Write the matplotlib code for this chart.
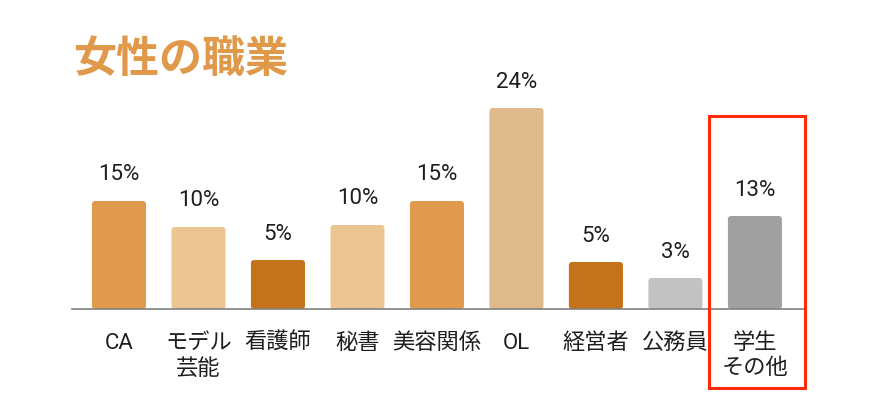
import matplotlib
matplotlib.use("Agg")
import matplotlib.pyplot as plt
from matplotlib.patches import FancyBboxPatch, Rectangle

plt.rcParams['font.family'] = ['Roboto', 'Noto Sans CJK JP', 'DejaVu Sans']

# datos
categorias = ["CA", "モデル\n芸能", "看護師", "秘書", "美容関係", "OL", "経営者", "公務員", "学生\nその他"]
porcentajes = [15, 10, 5, 10, 15, 24, 5, 3, 13]
# altura visual de cada barra (leida del grafico, no es proporcional)
altura = [108, 82, 49, 84, 108, 201, 47, 31, 93]
colores = ["#E09A4E", "#EBC592", "#C4731A", "#EBC592", "#E09A4E",
           "#DDB98C", "#C4731A", "#C2C2C2", "#A0A0A0"]

W, H = 884, 403
fig = plt.figure(figsize=(W / 100, H / 100), dpi=100)

# ejes: de x=72 a 805 px, base en y=309 px (desde arriba)
ax = fig.add_axes([72 / W, (H - 309) / H, (805 - 72) / W, 209 / H])
ax.set_xlim(-0.591, 8.63)
ax.set_ylim(0, 209)

x = list(range(len(categorias)))
barras = ax.bar(x, altura, width=0.68, color=colores)

# barras redondeadas
for b, c in zip(barras, colores):
    b.set_visible(False)
    p = FancyBboxPatch((b.get_x(), 0), b.get_width(), b.get_height(),
                       boxstyle="round,pad=0,rounding_size=0.04",
                       mutation_aspect=75, fc=c, ec="none")
    ax.add_patch(p)

for xi, h, v in zip(x, altura, porcentajes):
    ax.text(xi, h + 26, f"{v}%", ha="center", va="center", fontsize=16, color="#1e1e1e")

for s in ["top", "right", "left"]:
    ax.spines[s].set_visible(False)
ax.spines["bottom"].set_color("#808080")
ax.spines["bottom"].set_linewidth(1.2)
ax.set_yticks([])
ax.set_xticks(x)
ax.set_xticklabels(categorias, fontsize=16, color="#1e1e1e", linespacing=1.3, va="top")
ax.tick_params(axis="x", length=0, pad=17)

# titulo
fig.text(73 / W, 1 - 60 / H, "女性の職業", fontsize=31, fontweight="bold",
         color="#E0994A", ha="left", va="center")

# recuadro rojo
rect = Rectangle((709 / W, 1 - 388 / H), 96 / W, 272 / H, transform=fig.transFigure,
                 fill=False, ec="#FF2A0A", lw=2.2)
fig.patches.append(rect)

fig.savefig("out.png", dpi=100)
